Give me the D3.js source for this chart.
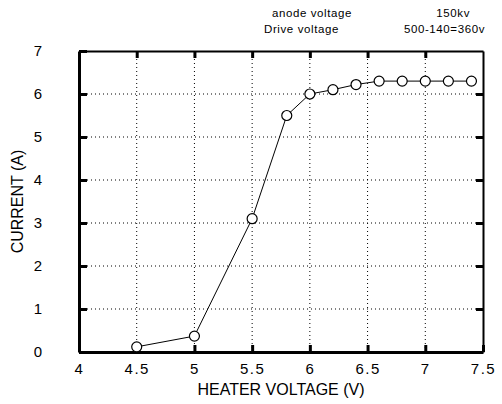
<!DOCTYPE html>
<html>
<head>
<meta charset="utf-8">
<script src="https://cdn.jsdelivr.net/npm/d3@7"></script>
<style>
  body { margin: 0; background: #fff; }
  svg { display: block; font-family: "Liberation Sans", Arial, sans-serif; }
</style>
</head>
<body>
<svg width="502" height="404"></svg>
<script>
// heater voltage vs. current
var heaterVolts = [4.5, 5.0, 5.5, 5.8, 6.0, 6.2, 6.4, 6.6, 6.8, 7.0, 7.2, 7.4];
var currentAmps = [0.12, 0.37, 3.1, 5.5, 6.0, 6.1, 6.22, 6.3, 6.3, 6.3, 6.3, 6.3];
var xTicks = [4, 4.5, 5, 5.5, 6, 6.5, 7, 7.5];
var yTicks = [0, 1, 2, 3, 4, 5, 6, 7];
var noteLabels = ["anode voltage", "Drive  voltage"];
var noteValues = ["150kv", "500-140=360v"];

var svg = d3.select("svg"),
    margin = { top: 51, right: 19, bottom: 52, left: 79 },
    width = 502 - margin.left - margin.right,
    height = 404 - margin.top - margin.bottom;

var x = d3.scaleLinear().domain([4, 7.5]).range([0, width]);
var y = d3.scaleLinear().domain([0, 7]).range([height, 0]);

var g = svg.append("g").attr("transform", "translate(" + margin.left + "," + margin.top + ")");

// dotted grid
g.selectAll(".gx").data(xTicks.slice(1, -1)).enter().append("line")
    .attr("x1", function (d) { return x(d); }).attr("x2", function (d) { return x(d); })
    .attr("y1", 0).attr("y2", height)
    .attr("stroke", "#000").attr("stroke-width", 1).attr("stroke-dasharray", "1,3");
g.selectAll(".gy").data(yTicks.slice(1, -1)).enter().append("line")
    .attr("x1", 0).attr("x2", width)
    .attr("y1", function (d) { return y(d); }).attr("y2", function (d) { return y(d); })
    .attr("stroke", "#000").attr("stroke-width", 1).attr("stroke-dasharray", "1,3");

// axes with inward ticks
var xAxis = g.append("g").attr("transform", "translate(0," + height + ")")
    .call(d3.axisBottom(x).tickValues(xTicks).tickSizeInner(-7).tickSizeOuter(0).tickPadding(11)
        .tickFormat(function (d) { return String(d); }));
var yAxis = g.append("g")
    .call(d3.axisLeft(y).tickValues(yTicks).tickSizeInner(-8).tickSizeOuter(0).tickPadding(41)
        .tickFormat(d3.format("d")));
var topAxis = g.append("g")
    .call(d3.axisTop(x).tickValues(xTicks.slice(1, -1)).tickSizeInner(-7).tickSizeOuter(0).tickFormat(""));
var rightAxis = g.append("g").attr("transform", "translate(" + width + ",0)")
    .call(d3.axisRight(y).tickValues(yTicks.slice(1, -1)).tickSizeInner(-7).tickSizeOuter(0).tickFormat(""));

[xAxis, yAxis].forEach(function (a) {
    a.select(".domain").attr("stroke", "#000").attr("stroke-width", 3);
    a.selectAll(".tick line").attr("stroke", "#000").attr("stroke-width", 3);
    a.selectAll(".tick text").attr("fill", "#000").attr("font-size", 15)
        .attr("font-family", "'Liberation Sans', Arial, sans-serif");
});
[topAxis, rightAxis].forEach(function (a) {
    a.select(".domain").attr("stroke", "#000").attr("stroke-width", 2);
    a.selectAll(".tick line").attr("stroke", "#000").attr("stroke-width", 3);
});
xAxis.selectAll(".tick text").attr("letter-spacing", 1.5);
yAxis.selectAll(".tick text").attr("text-anchor", "middle");

// data line and open circles
var line = d3.line()
    .x(function (d, i) { return x(heaterVolts[i]); })
    .y(function (d) { return y(d); });
g.append("path").datum(currentAmps)
    .attr("d", line).attr("fill", "none").attr("stroke", "#000").attr("stroke-width", 1);
g.selectAll(".pt").data(currentAmps).enter().append("circle")
    .attr("cx", function (d, i) { return x(heaterVolts[i]); })
    .attr("cy", function (d) { return y(d); })
    .attr("r", 5).attr("fill", "#fff").attr("stroke", "#000").attr("stroke-width", 1.2);

// axis titles
svg.append("text").attr("x", margin.left + width / 2).attr("y", 395)
    .attr("text-anchor", "middle").attr("font-size", 16).text("HEATER VOLTAGE (V)");
svg.append("text").attr("transform", "translate(23," + (margin.top + height / 2) + ") rotate(-90)")
    .attr("text-anchor", "middle").attr("font-size", 16).text("CURRENT (A)");

// operating note
svg.selectAll(".nl").data(noteLabels).enter().append("text")
    .attr("x", function (d, i) { return i === 0 ? 272 : 264; })
    .attr("y", function (d, i) { return 17 + i * 16; })
    .attr("font-size", 11.5).attr("letter-spacing", 0.6).text(function (d) { return d; });
svg.selectAll(".nv").data(noteValues).enter().append("text")
    .attr("x", function (d, i) { return i === 0 ? 470 : 485; })
    .attr("y", function (d, i) { return 17 + i * 16; })
    .attr("text-anchor", "end").attr("font-size", 11.5).attr("letter-spacing", 0.6)
    .text(function (d) { return d; });
</script>
</body>
</html>
